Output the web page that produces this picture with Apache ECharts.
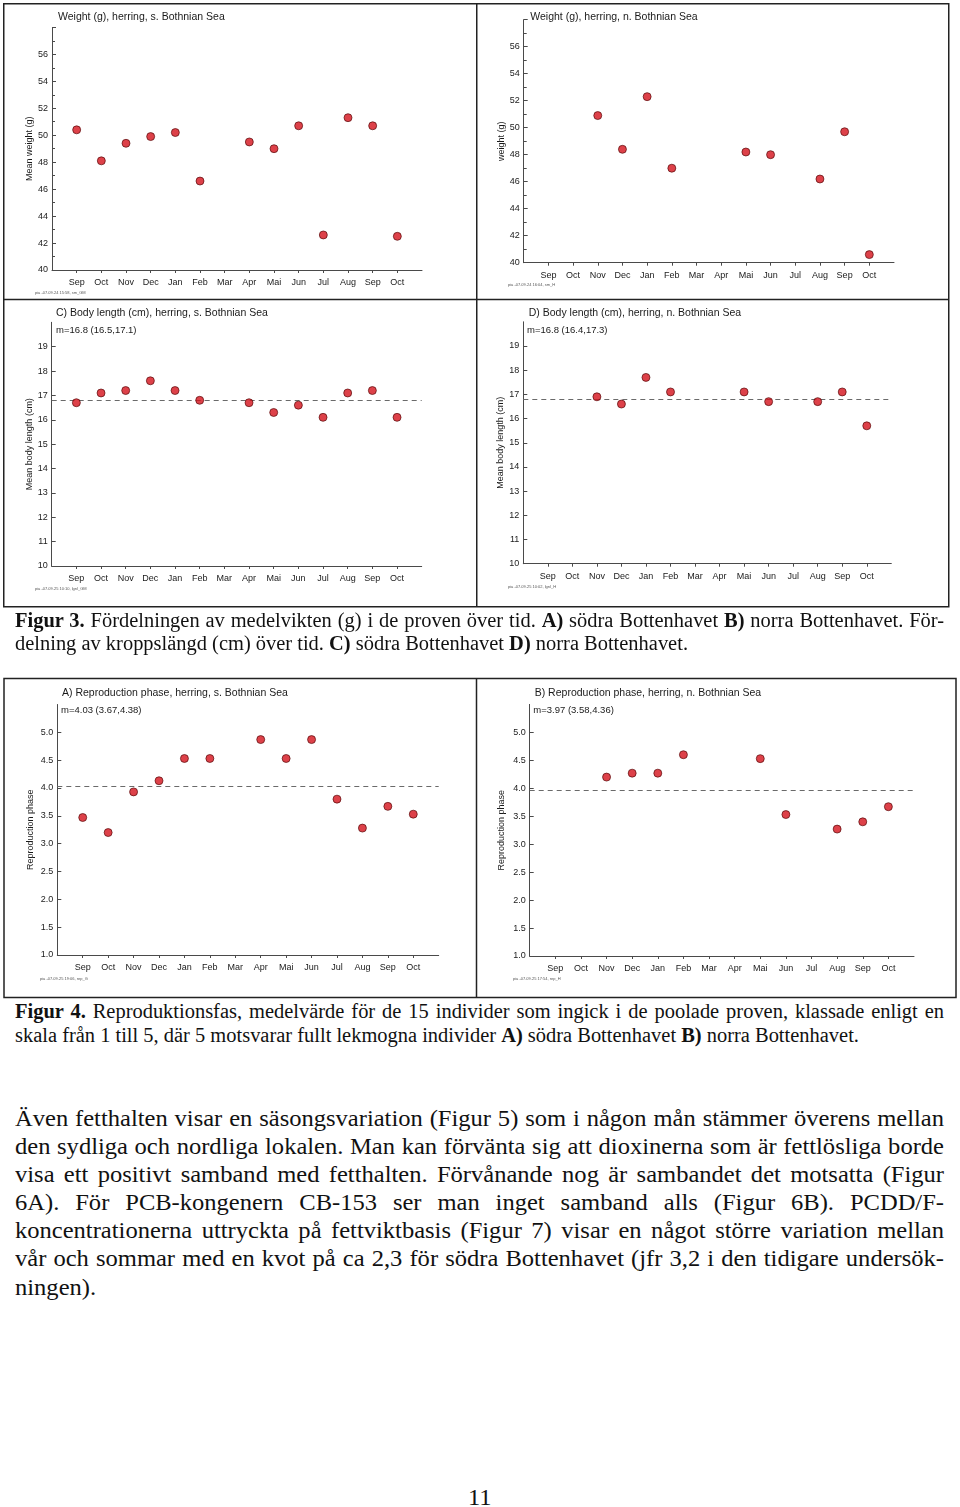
<!DOCTYPE html>
<html><head><meta charset="utf-8">
<script src="https://cdn.jsdelivr.net/npm/echarts@6/dist/echarts.min.js"></script>
<style>
html,body{margin:0;padding:0;background:#fff;}
body{width:960px;height:1507px;position:relative;overflow:hidden;}
#chart{position:absolute;left:0;top:0;width:960px;height:1000px;}
.ln{position:absolute;left:15px;white-space:nowrap;font-family:"Liberation Serif","Times New Roman",serif;color:#111;transform-origin:0 0;}
.cap{font-size:20px;line-height:20px;}
.par{font-size:24px;line-height:24px;}
</style></head><body>
<div id="chart"></div>
<div class="ln cap" data-y="620" data-j="1"><b>Figur 3.</b> Fördelningen av medelvikten (g) i de proven över tid. <b>A)</b> södra Bottenhavet <b>B)</b> norra Bottenhavet. För-</div>
<div class="ln cap" id="refLine" data-y="643"><b></b>delning av kroppslängd (cm) över tid. <b>C)</b> södra Bottenhavet <b>D)</b> norra Bottenhavet.</div>
<div class="ln cap" data-y="1011" data-j="1"><b>Figur 4.</b> Reproduktionsfas, medelvärde för de 15 individer som ingick i de poolade proven, klassade enligt en</div>
<div class="ln cap" data-y="1035">skala från 1 till 5, där 5 motsvarar fullt lekmogna individer <b>A)</b> södra Bottenhavet <b>B)</b> norra Bottenhavet.</div>
<div class="ln par" data-y="1118" data-j="1">Även fetthalten visar en säsongsvariation (Figur 5) som i någon mån stämmer överens mellan</div>
<div class="ln par" data-y="1146" data-j="1">den sydliga och nordliga lokalen. Man kan förvänta sig att dioxinerna som är fettlösliga borde</div>
<div class="ln par" data-y="1174" data-j="1">visa ett positivt samband med fetthalten. Förvånande nog är sambandet det motsatta (Figur</div>
<div class="ln par" data-y="1202" data-j="1">6A). För PCB-kongenern CB-153 ser man inget samband alls (Figur 6B). PCDD/F-</div>
<div class="ln par" data-y="1230" data-j="1">koncentrationerna uttryckta på fettviktbasis (Figur 7) visar en något större variation mellan</div>
<div class="ln par" data-y="1258" data-j="1">vår och sommar med en kvot på ca 2,3 för södra Bottenhavet (jfr 3,2 i den tidigare undersök-</div>
<div class="ln par" data-y="1287">ningen).</div>
<div class="ln par" id="pageNum" data-y="1497" data-c="480">11</div>
<script>
// ---------------- data ----------------
const months = ['Sep','Oct','Nov','Dec','Jan','Feb','Mar','Apr','Mai','Jun','Jul','Aug','Sep','Oct'];
const weightSouth = [50.4,48.1,49.4,49.9,50.2,46.6,null,49.5,49.0,50.7,42.6,51.3,50.7,42.5];
const weightNorth = [null,null,50.9,48.4,52.3,47.0,null,null,48.2,48.0,null,46.2,49.7,40.6];
const lengthSouth = [16.7,17.1,17.2,17.6,17.2,16.8,null,16.7,16.3,16.6,16.1,17.1,17.2,16.1];
const lengthNorth = [null,null,16.9,16.6,17.7,17.1,null,null,17.1,16.7,null,16.7,17.1,15.7];
const reproSouth = [3.47,3.20,3.93,4.13,4.53,4.53,null,4.87,4.53,4.87,3.80,3.28,3.67,3.53];
const reproNorth = [null,null,4.20,4.27,4.27,4.60,null,null,4.53,3.53,null,3.27,3.40,3.67];
const lengthSouthMean = [16.8, 16.5, 17.1];
const lengthNorthMean = [16.8, 16.4, 17.3];
const reproSouthMean = [4.03, 3.67, 4.38];
const reproNorthMean = [3.97, 3.58, 4.36];
const weightTicks = {min: 40, max: 58, interval: 2};
const lengthTicks = {min: 10, max: 20, interval: 1};
const reproTicks = {min: 1, max: 5.5, interval: 0.5};

// ---------------- layout ----------------
const FONT = '"Liberation Sans", Arial, Helvetica, sans-serif';
const panels = [
 {data: weightSouth, mean: null, ticks: weightTicks, dec: 0, minor: true,
  box: [52, 27.4, 422, 270], yName: 'Mean weight (g)', nameGap: 18,
  title: 'Weight (g), herring, s. Bothnian Sea', t: [58, 17],
  foot: 'pia -07.09.24 15:58, sm_GM', f: [35, 293]},
 {data: weightNorth, mean: null, ticks: weightTicks, dec: 0, minor: true,
  box: [523.7, 19.7, 894, 262.7], yName: 'weight (g)', nameGap: 17.4,
  title: 'Weight (g), herring, n. Bothnian Sea', t: [530.3, 17],
  foot: 'pia -07.09.24 16:04, sm_H', f: [508, 285]},
 {data: lengthSouth, mean: lengthSouthMean, ticks: lengthTicks, dec: 0, minor: false,
  box: [51.7, 322.3, 421.7, 566], yName: 'Mean body length (cm)', nameGap: 17.7,
  title: 'C) Body length (cm), herring, s. Bothnian Sea', t: [56, 313.3], m: [56, 330.7],
  foot: 'pia -07.09.25 10:10, lgnl_GM', f: [35, 588.7]},
 {data: lengthNorth, mean: lengthNorthMean, ticks: lengthTicks, dec: 0, minor: false,
  box: [523.3, 321.8, 891.3, 563.7], yName: 'Mean body length (cm)', nameGap: 17,
  title: 'D) Body length (cm), herring, n. Bothnian Sea', t: [528.7, 312.7], m: [527, 330],
  foot: 'pia -07.09.25 10:02, lgnl_H', f: [508, 586.7]},
 {data: reproSouth, mean: reproSouthMean, ticks: reproTicks, dec: 1, minor: false,
  box: [57.3, 704.5, 438.7, 955], yName: 'Reproduction phase', nameGap: 22.3,
  title: 'A) Reproduction phase, herring, s. Bothnian Sea', t: [62, 693.3], m: [61, 710.7],
  foot: 'pia -07.09.25 19:06, rep_G', f: [40, 979]},
 {data: reproNorth, mean: reproNorthMean, ticks: reproTicks, dec: 1, minor: false,
  box: [529.7, 704.4, 914, 956], yName: 'Reproduction phase', nameGap: 23.7,
  title: 'B) Reproduction phase, herring, n. Bothnian Sea', t: [534.7, 693.3], m: [533.3, 710.7],
  foot: 'pia -07.09.25 17:54, rep_H', f: [513, 979.3]}
];

const cats = [''].concat(months, ['']);
const grid = [], xAxis = [], yAxis = [], series = [], graphic = [];
const AX = '#4a4a4a', TXT = '#1a1a1a';

panels.forEach((p, i) => {
  const [l, t, r, b] = p.box;
  grid.push({left: l, top: t, width: r - l, height: b - t, containLabel: false, outerBoundsMode: 'none'});
  xAxis.push({type: 'category', gridIndex: i, data: cats, boundaryGap: false,
    axisLine: {lineStyle: {color: AX, width: 1}},
    axisTick: {show: true, length: 3, inside: false, lineStyle: {color: AX},
      interval: (idx) => idx > 0 && idx < cats.length - 1},
    axisLabel: {color: TXT, fontFamily: FONT, fontSize: 9, margin: 8,
      interval: (idx) => idx > 0 && idx < cats.length - 1},
    splitLine: {show: false}});
  yAxis.push({type: 'value', gridIndex: i, min: p.ticks.min, max: p.ticks.max, interval: p.ticks.interval,
    name: p.yName, nameLocation: 'middle', nameRotate: 90, nameGap: p.nameGap,
    nameTextStyle: {color: TXT, fontFamily: FONT, fontSize: 9},
    axisLine: {show: true, lineStyle: {color: AX, width: 1}},
    axisTick: {show: true, inside: true, length: 4, lineStyle: {color: AX}},
    minorTick: {show: p.minor, splitNumber: 2, length: 3, lineStyle: {color: AX}},
    axisLabel: {color: TXT, fontFamily: FONT, fontSize: 9, margin: 4, showMaxLabel: false,
      formatter: (v) => v.toFixed(p.dec)},
    splitLine: {show: false}});
  const pts = [];
  p.data.forEach((v, k) => { if (v !== null) pts.push([k + 1, v]); });
  const s = {type: 'scatter', xAxisIndex: i, yAxisIndex: i, data: pts, symbol: 'circle', symbolSize: 8,
    itemStyle: {color: '#d4111b', borderColor: '#4a0000', borderWidth: 0.8}, z: 5};
  if (p.mean) {
    s.markLine = {silent: true, symbol: 'none', label: {show: false}, animation: false,
      lineStyle: {type: [5, 4], color: '#6a6a6a', width: 1},
      data: [{yAxis: p.mean[0]}]};
    graphic.push({type: 'text', x: p.m[0], y: p.m[1], style: {
      text: 'm=' + p.mean[0] + ' (' + p.mean[1] + ',' + p.mean[2] + ')',
      fill: TXT, font: '9.5px ' + FONT, verticalAlign: 'middle', align: 'left'}});
  }
  series.push(s);
  graphic.push({type: 'text', x: p.t[0], y: p.t[1], style: {text: p.title, fill: TXT,
    font: '10.5px ' + FONT, verticalAlign: 'middle', align: 'left'}});
  graphic.push({type: 'text', x: p.f[0], y: p.f[1], style: {text: p.foot, fill: '#555',
    font: '4px ' + FONT, verticalAlign: 'middle', align: 'left'}});
});

// frames
const FR = {stroke: '#222', lineWidth: 1.5, fill: null};
graphic.push({type: 'rect', shape: {x: 3.75, y: 3.75, width: 945, height: 603}, style: FR});
graphic.push({type: 'line', shape: {x1: 3.75, y1: 299.5, x2: 948.75, y2: 299.5}, style: FR});
graphic.push({type: 'line', shape: {x1: 476.75, y1: 3.75, x2: 476.75, y2: 606.75}, style: FR});
graphic.push({type: 'rect', shape: {x: 4, y: 678.5, width: 952, height: 319}, style: FR});
graphic.push({type: 'line', shape: {x1: 476.5, y1: 678.5, x2: 476.5, y2: 997.5}, style: FR});

const chart = echarts.init(document.getElementById('chart'), null, {renderer: 'canvas'});
chart.setOption({animation: false, backgroundColor: 'transparent', grid, xAxis, yAxis, series, graphic});

// ---------------- text lines ----------------
const TARGET = 929;
const ref = document.getElementById('refLine');
const S = 673 / ref.getBoundingClientRect().width;
document.querySelectorAll('.ln').forEach(el => {
  const lh = parseFloat(getComputedStyle(el).lineHeight);
  el.style.top = (parseFloat(el.dataset.y) - lh / 2) + 'px';
  const w = el.getBoundingClientRect().width;
  if (el.dataset.j) {
    const n = (el.textContent.match(/ /g) || []).length;
    if (n) el.style.wordSpacing = ((TARGET / S - w) / n) + 'px';
  }
  if (el.dataset.c) el.style.left = (parseFloat(el.dataset.c) - w * S / 2) + 'px';
  el.style.transform = 'scaleX(' + S + ')';
});
</script>
</body></html>
